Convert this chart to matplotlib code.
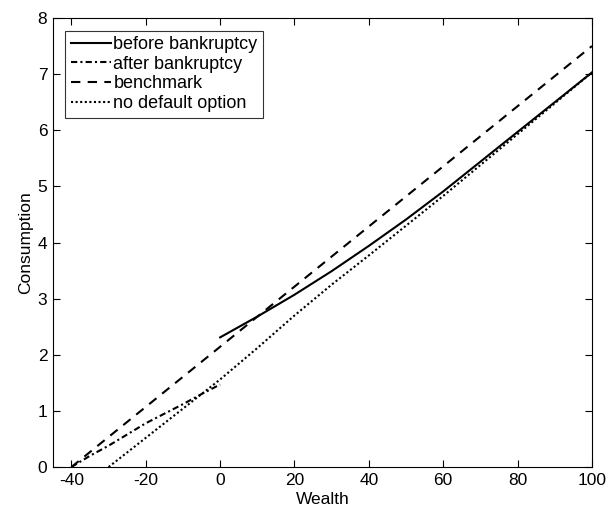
import matplotlib
matplotlib.use("Agg")
import matplotlib.pyplot as plt

plt.rcParams['font.family'] = ['Liberation Sans', 'DejaVu Sans']
plt.rcParams['axes.unicode_minus'] = False

# data
x_before = [0, 10, 20, 30, 40, 50, 60, 70, 80, 90, 100]
y_before = [2.31, 2.68, 3.07, 3.49, 3.94, 4.41, 4.91, 5.44, 5.97, 6.50, 7.03]

x_after = [-40, -35, -30, -25, -20, -15, -10, -5, 0]
y_after = [0.0, 0.20, 0.38, 0.58, 0.78, 0.95, 1.12, 1.30, 1.47]

x_bench = [-40, 100]
y_bench = [0.0, 7.5]

x_nodef = [-30, -20, -10, 0, 10, 20, 30, 40, 50, 60, 70, 80, 90, 100]
y_nodef = [0.0, 0.52, 1.04, 1.56, 2.12, 2.70, 3.25, 3.77, 4.30, 4.83, 5.38, 5.93, 6.48, 7.03]

xticks = [-40, -20, 0, 20, 40, 60, 80, 100]
yticks = [0, 1, 2, 3, 4, 5, 6, 7, 8]

fig = plt.figure(figsize=(6.10, 5.14), dpi=100)
ax = fig.add_axes([0.0866, 0.0914, 0.8838, 0.8736])

lw = 1.5
fs = 12.5
ax.plot(x_before, y_before, color='black', lw=lw, linestyle='-', label='before bankruptcy')
ax.plot(x_after, y_after, color='black', lw=lw, linestyle=(0, (3, 1.5, 1, 1.5)), label='after bankruptcy')
ax.plot(x_bench, y_bench, color='black', lw=lw, linestyle=(0, (4.5, 3.5)), label='benchmark')
ax.plot(x_nodef, y_nodef, color='black', lw=lw, linestyle=(0, (1, 1.2)), label='no default option')

ax.set_xlim(-45, 100)
ax.set_ylim(0, 8)
ax.set_xticks(xticks)
ax.set_yticks(yticks)
ax.tick_params(direction='in', top=True, right=True, labelsize=fs, length=5, color='black', pad=4)
for s in ax.spines.values():
    s.set_linewidth(0.8)
ax.set_xlabel('Wealth', fontsize=fs, labelpad=3)
ax.set_ylabel('Consumption', fontsize=fs, labelpad=3)

leg = ax.legend(loc='upper left', fontsize=13, frameon=True, fancybox=False,
                edgecolor='black', handlelength=2.2, handletextpad=0.15,
                borderpad=0.3, labelspacing=0.15, borderaxespad=0.7)
leg.get_frame().set_linewidth(0.8)

fig.savefig('out.png', dpi=100)
